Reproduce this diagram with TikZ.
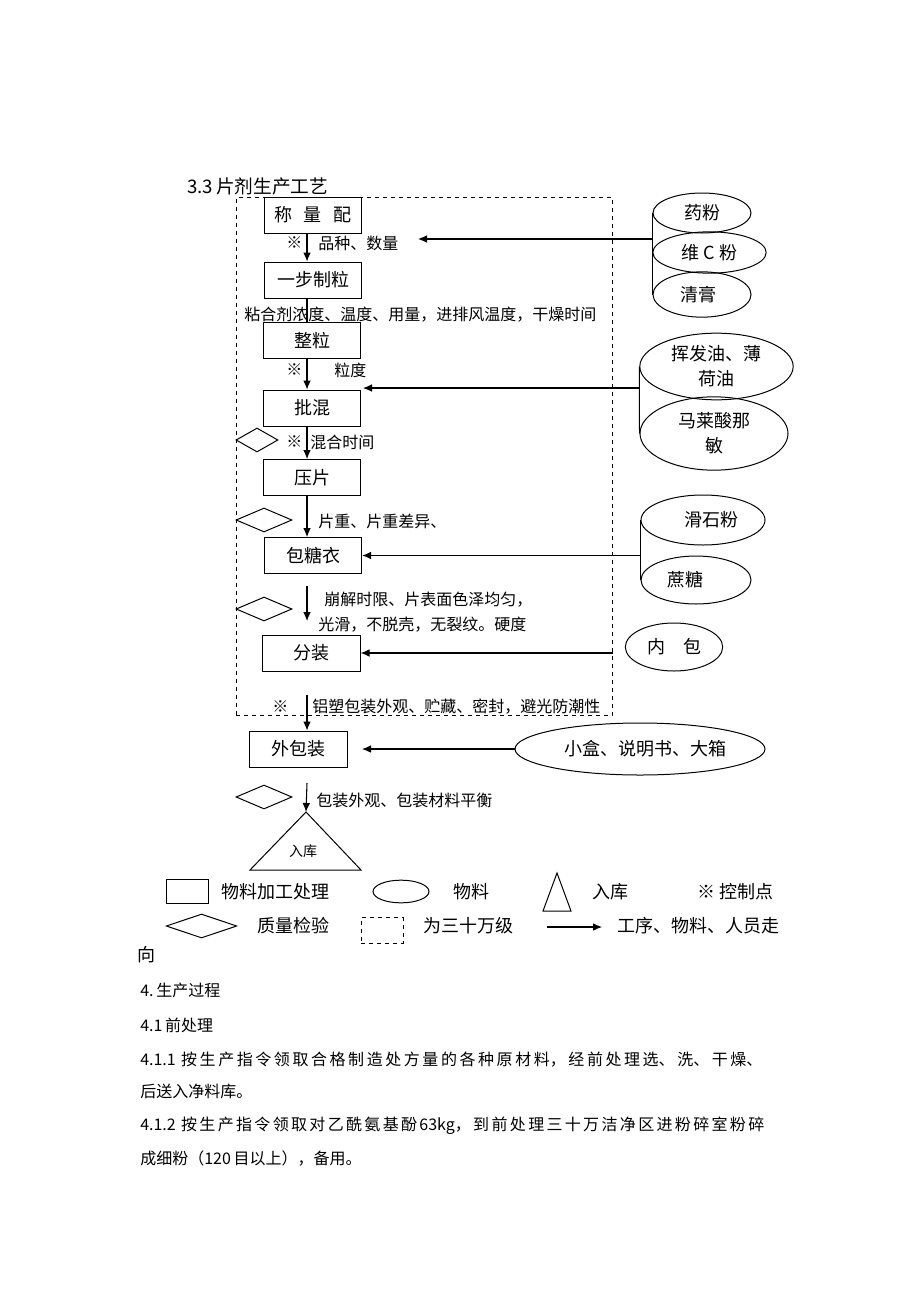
\documentclass[tikz,border=0pt]{standalone}
\usepackage{fontspec}
\setmainfont{Noto Sans CJK SC}
\usetikzlibrary{shapes.geometric,arrows.meta}
\XeTeXlinebreaklocale "zh"
\XeTeXlinebreakskip=0pt plus 3pt

\begin{document}
\begin{tikzpicture}[x=0.75pt,y=-0.75pt,
every node/.style={%
    inner sep=0pt, font=\fontsize{13.5}{16}\selectfont
    },
gongxu/.style={draw, line width=0.75pt, minimum width=73pt, minimum height=27pt},
wuliao/.style={draw, ellipse, line width=0.75pt, align=center},
jianyan/.style={draw, diamond, line width=0.75pt, minimum width=42pt, minimum height=18pt},
wen/.style={anchor=west},
zhu/.style={anchor=west, font=\fontsize{12}{15}\selectfont},
liu/.style={->, line width=0.8pt},
>={Latex[length=6.75pt,width=5.8pt]}
]
\useasboundingbox (0,0) rectangle (920,1302);

\node[wen, font=\fontsize{14}{16}\selectfont] (biaoti) at (187,186) {3.3\,片剂生产工艺};
\node[draw, dashed, line width=0.75pt, minimum width=282pt, minimum height=389pt] (qu) at (424,456.5) {};

% gongxu
\node[gongxu] (w1) at (313,215) {称\hspace{9pt}量\hspace{9pt}配};
\node[gongxu] (w2) at (313,280) {一步制粒};
\node[gongxu] (w3) at (312,340.5) {整粒};
\node[gongxu] (w4) at (312,408) {批混};
\node[gongxu] (w5) at (312,477.5) {压片};
\node[gongxu] (w6) at (313,555.5) {包糖衣};
\node[gongxu] (w7) at (311.5,653) {分装};
\node[gongxu] (w8) at (298.5,749) {外包装};
\coordinate (ruku) at (306,812);
\draw[line width=0.75pt] (ruku) -- (361,870) -- (250,870) -- cycle;
\node[font=\fontsize{10.5}{12}\selectfont] (rk) at (303,851) {入库};

% wuliao
\node[wuliao, minimum width=73.5pt, minimum height=30pt] (e1) at (702,213) {药粉};
\node[wuliao, minimum width=85pt, minimum height=31pt] (e2) at (709.5,252.5) {维 C 粉};
\node[wuliao, minimum width=73.5pt, minimum height=34pt] (e3) at (702,294.5) {清膏\hspace{6pt}};
\node[wuliao, minimum width=115pt, minimum height=50pt, font=\fontsize{13.5}{18.75}\selectfont] (e4) at (716.5,366.5) {挥发油、薄\\荷油};
\node[wuliao, minimum width=111pt, minimum height=55pt, font=\fontsize{13.5}{18.75}\selectfont] (e5) at (714,433.5) {马莱酸那\\敏};
\node[wuliao, minimum width=93pt, minimum height=37.5pt] (e6) at (703,520) {\hspace{12pt}滑石粉};
\node[wuliao, minimum width=82.5pt, minimum height=36pt] (e7) at (696,580) {蔗糖\hspace{16pt}};
\node[wuliao, minimum width=73pt, minimum height=36pt] (e8) at (674,647) {内\hspace{1em}包};
\node[wuliao, minimum width=187.5pt, minimum height=39pt] (e9) at (640,749) {\hspace{8pt}小盒、说明书、大箱};
\foreach \i/\j in {e1/e3, e4/e5, e6/e7}
    \draw[line width=0.75pt] (\i.west) -- (\j.west);

% jianyan
\node[jianyan, minimum width=31.5pt] (d1) at (257,440) {};
\node[jianyan] (d2) at (264,520) {};
\node[jianyan] (d3) at (264,609) {};
\node[jianyan] (d4) at (264,797) {};

% liuxiang
\coordinate (zhou) at (307,0);
\foreach \i/\j in {w1/w2, w3/w4, w4/w5, w5/w6}
    \draw[liu] (\i.south -| zhou) -- (\j.north -| zhou);
\draw[line width=0.8pt] (w2.south -| zhou) -- (w3.north -| zhou);
\coordinate (c1) at (307,586); \coordinate (c2) at (307,621);
\coordinate (c3) at (307,695); \coordinate (c4) at (307,783);
\draw[liu] (c1) -- (c2);
\draw[liu] (c3) -- (w8.north -| zhou);
\draw[liu] (c4) -- (ruku);
\coordinate (a1) at (418,239); \coordinate (a2) at (363,388); \coordinate (a4) at (362,749);
\draw[liu] (e2.west |- a1) -- (a1);
\draw[liu] (e4.west |- a2) -- (a2);
\draw[liu] (e6.west |- w6) -- (w6.east);
\draw[liu] (w7.east -| qu.east) -- (w7.east);
\draw[liu] (e9.west) -- (a4);

% kongzhi
\node[zhu] (x1) at (286,243) {※}; \node[zhu] (t1) at (318,243) {品种、数量};
\node[zhu] (t2) at (244,315) {粘合剂浓度、温度、用量，进排风温度，干燥时间};
\node[zhu] (x2) at (286,370) {※}; \node[zhu] (t3) at (334,370) {粒度};
\node[zhu] (x3) at (286,442) {※}; \node[zhu] (t4) at (310,442) {混合时间};
\node[zhu] (t5) at (318,521) {片重、片重差异、};
\node[zhu] (t6) at (324,600) {崩解时限、片表面色泽均匀，};
\node[zhu] (t7) at (318,625) {光滑，不脱壳，无裂纹。硬度};
\node[zhu] (x4) at (272,707) {※}; \node[zhu] (t8) at (312,707) {铝塑包装外观、贮藏、密封，避光防潮性};
\node[zhu] (t9) at (316,800) {包装外观、包装材料平衡};

% tuli
\node[draw, line width=0.75pt, minimum width=32pt, minimum height=18pt] (lk) at (187.5,891) {};
\node[wen] (lk-t) at (221,892) {物料加工处理};
\node[draw, ellipse, line width=0.75pt, minimum width=42pt, minimum height=17pt] (le) at (401,891.5) {};
\node[wen] (le-t) at (453,892) {物料};
\draw[line width=0.75pt] (557,873) -- (571,911) -- (543,911) -- cycle;
\node[wen] (lr-t) at (592,892) {入库};
\node[wen] (lx-t) at (697,892) {※ 控制点};
\node[jianyan, minimum width=53pt, minimum height=18pt] (ld) at (201.5,926) {};
\node[wen] (ld-t) at (257,926) {质量检验};
\node[draw, dashed, line width=0.75pt, minimum width=31.5pt, minimum height=19pt] (lq) at (382,930.5) {};
\node[wen] (lq-t) at (423,926) {为三十万级};
\coordinate (l1) at (547,927); \coordinate (l2) at (602,927);
\draw[liu] (l1) -- (l2);
\node[wen] (ll-t) at (617,926) {工序、物料、人员走};
\node[wen] (ll-t2) at (137,955) {向};

% zhengwen
\node[zhu] (p1) at (140,990) {4.\,生产过程};
\node[zhu] (p2) at (140,1025) {4.1\,前处理};
\node[zhu, text width=482pt] (p3) at (140,1060) {\parfillskip=0pt 4.1.1 按生产指令领取合格制造处方量的各种原材料，经前处理选、洗、干燥、\par};
\node[zhu] (p4) at (140,1091) {后送入净料库。};
\node[zhu, text width=482pt] (p5) at (140,1126) {\parfillskip=0pt 4.1.2 按生产指令领取对乙酰氨基酚63kg，到前处理三十万洁净区进粉碎室粉碎\par};
\node[zhu] (p6) at (140,1158) {成细粉（120\,目以上），备用。};
\end{tikzpicture}
\end{document}
